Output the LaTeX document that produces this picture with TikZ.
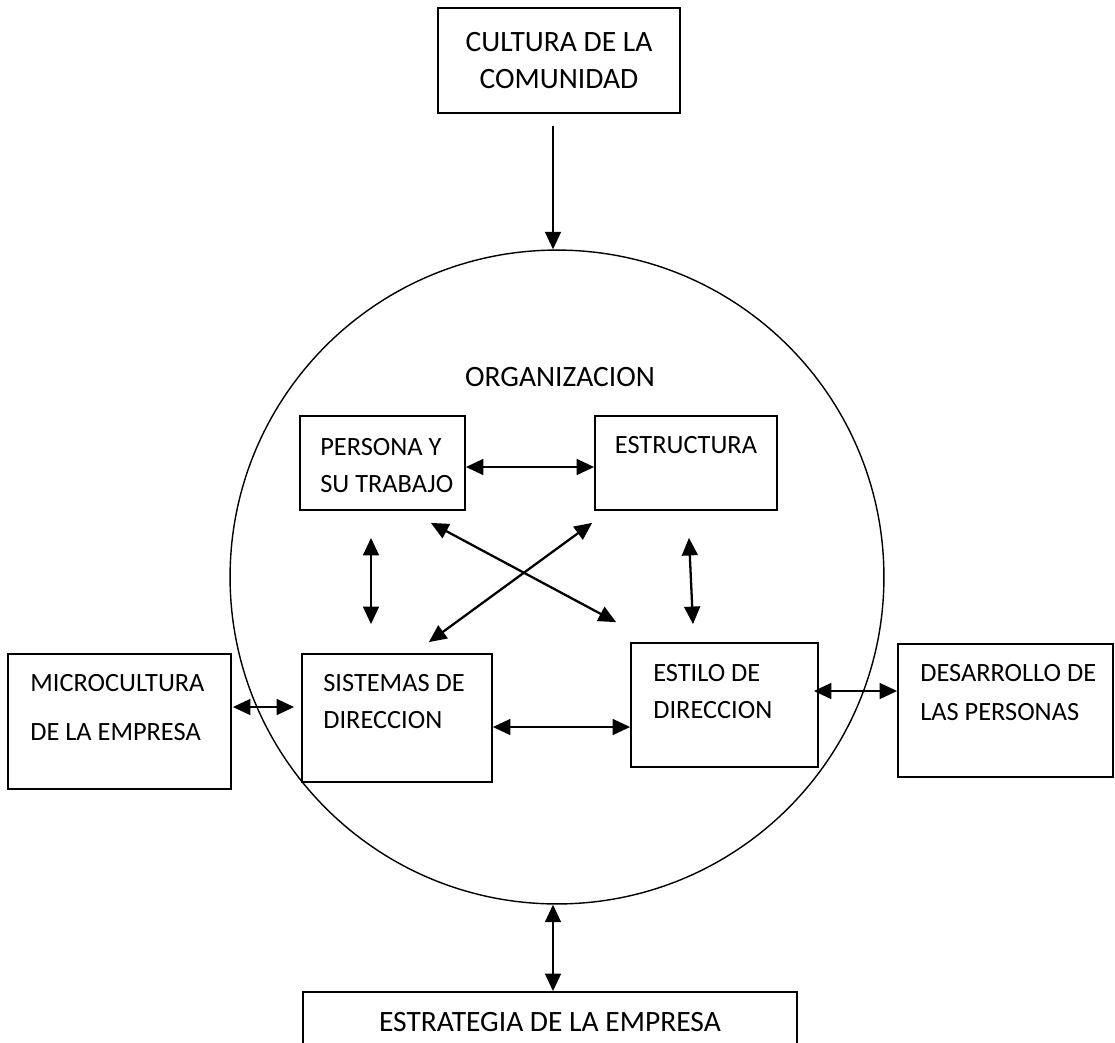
\documentclass[tikz,border=0pt]{standalone}
\usepackage{fontspec}
\setmainfont{Carlito}
\usepackage{tikz}
\usetikzlibrary{positioning,arrows.meta,calc}
\tikzset{
  orgbox/.style={draw, line width=1pt, inner sep=0pt, align=center},
  orgtxt/.style={inner sep=0pt, align=left, anchor=north west,
    font=\fontsize{15pt}{21pt}\selectfont},
  orgring/.style={draw, circle, line width=0.8pt, inner sep=0pt},
  orgarr/.style={-{Triangle[length=10pt,width=9pt]}, line width=1.3pt},
  orgdarr/.style={{Triangle[length=10pt,width=9pt]}-{Triangle[length=10pt,width=9pt]}, line width=1.3pt},
}
\begin{document}
\begin{tikzpicture}[x=0.02cm, y=-0.02cm, font=\fontsize{16.8pt}{21pt}\selectfont]
  \useasboundingbox (0,0) rectangle (1115,1042);
  % ---- outer frame ----
  \node[orgring, minimum size=13.08cm] at (557,577) (org) {};
  \node at (560,377) (orgT) {ORGANIZACION};
  \node[orgbox, minimum width=4.84cm, minimum height=2.10cm] at (559,60.5) (cult)
    {CULTURA DE LA\\COMUNIDAD};
  \node[orgbox, minimum width=9.88cm, minimum height=1.20cm] at (550,1022) (estra)
    {ESTRATEGIA DE LA EMPRESA};

  % ---- inner boxes ----
  \node[orgbox, minimum width=3.30cm, minimum height=1.88cm] at (382.5,463) (pers) {};
  \node[orgbox, minimum width=3.64cm, minimum height=1.88cm] at (686,463)   (estr) {};
  \node[orgbox, minimum width=3.80cm, minimum height=2.56cm] at (397,718)   (sist) {};
  \node[orgbox, minimum width=3.74cm, minimum height=2.48cm] at (724.5,705) (esti) {};

  % ---- side boxes ----
  \node[orgbox, minimum width=4.46cm, minimum height=2.70cm] at (119.5,721.5) (micro) {};
  \node[orgbox, minimum width=4.30cm, minimum height=2.66cm] at (1005.5,710.5) (desa) {};

  % texts
  \node[orgtxt] at (320,438.5) (persT)  {PERSONA Y\\SU TRABAJO};
  \node[orgtxt, anchor=north] at (686,436.5) (estrT) {ESTRUCTURA};
  \node[orgtxt] at (323,674.5) (sistT)  {SISTEMAS DE\\DIRECCION};
  \node[orgtxt] at (653,664.5) (estiT)  {ESTILO DE\\DIRECCION};
  \node[orgtxt] at (30,674.5)  (microT) {MICROCULTURA\\[6.9pt]DE LA EMPRESA};
  \node[orgtxt] at (920,664.5) (desaT)  {DESARROLLO DE\\[1pt]LAS PERSONAS};

  % ---- Edges ----
  \draw[orgarr]  ($(cult.south)+(-6,12)$) -- ($(org.north)+(-4,0)$);
  \draw[orgdarr] ($(org.south)+(-4,0)$)   -- ($(estra.north)+(3,0)$);
  % inside the ring
  \draw[orgdarr] ($(pers.east)+(0,4)$)    -- ($(estr.west)+(0,4)$);
  \draw[orgdarr] ($(pers.south)+(-11.5,27)$) -- ($(sist.north)+(-26,-29)$);
  \draw[orgdarr] ($(estr.south)+(3,27)$)  -- ($(esti.north)+(-31.5,-18)$);
  \draw[orgdarr] ($(pers.south east)+(-35,12)$) -- ($(esti.north west)+(-14,-20)$);
  \draw[orgdarr] ($(estr.south west)+(-2,12)$)  -- ($(sist.north east)+(-64,-11)$);
  \draw[orgdarr] ($(sist.east)+(0,9)$)    -- ($(esti.west)+(0,22)$);
  % to the side boxes
  \draw[orgdarr] ($(micro.east)+(1,-14.5)$) -- ($(sist.west)+(-7,-11)$);
  \draw[orgdarr] ($(esti.east)+(-5,-14)$)   -- ($(desa.west)+(0,-19.5)$);
\end{tikzpicture}
\end{document}
